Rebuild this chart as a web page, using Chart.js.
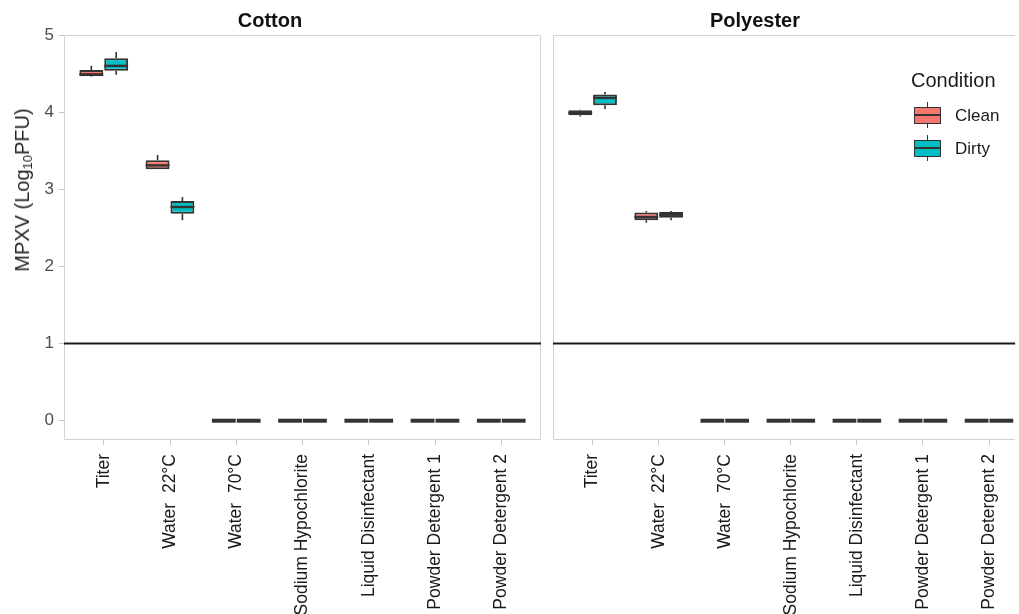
<!DOCTYPE html>
<html>
<head>
<meta charset="utf-8">
<script src="https://cdn.jsdelivr.net/npm/chart.js@4.4.1/dist/chart.umd.min.js"></script>
<style>
  body { margin: 0; background: #fff; font-family: "Liberation Sans", Arial, sans-serif; }
  #wrap { position: relative; width: 1019px; height: 614px; overflow: hidden; background: #fff; }
  canvas { position: absolute; top: 0; }
  #cottonCanvas { left: 0; }
  #polyCanvas { left: 545px; }
  .facet { position: absolute; top: 10px; font-weight: bold; font-size: 20px; line-height: 20px; color: #111; transform: translateX(-50%); white-space: nowrap; }
  #yTitle { position: absolute; left: 23px; top: 190px; font-size: 20px; font-weight: normal; color: #262626; transform: translate(-50%, -50%) rotate(-90deg); white-space: nowrap; -webkit-font-smoothing: antialiased; }
  #yTitle sub { font-size: 13px; vertical-align: -3px; }
  .lgTitle { position: absolute; left: 911px; top: 70px; font-size: 20px; line-height: 20px; color: #1a1a1a; }
  .lgText { position: absolute; left: 955px; font-size: 17px; line-height: 17px; color: #1a1a1a; }
  .icon { position: absolute; left: 914px; width: 27px; height: 26px; }
  .icon::before { content: ""; position: absolute; left: 12.5px; top: 0; bottom: 0; width: 1.6px; background: #333; }
  .icon .box { position: absolute; left: 0; right: 0; top: 5px; height: 17px; box-sizing: border-box; border: 1.6px solid #333; }
  .icon .box::after { content: ""; position: absolute; left: 0; right: 0; top: 6px; height: 1.8px; background: #333; }
</style>
</head>
<body>
<div id="wrap">
  <canvas id="cottonCanvas" width="545" height="614"></canvas>
  <canvas id="polyCanvas" width="474" height="614"></canvas>
  <div class="facet" style="left:270px">Cotton</div>
  <div class="facet" style="left:755px">Polyester</div>
  <div id="yTitle">MPXV (Log<sub>10</sub>PFU)</div>
  <div class="lgTitle">Condition</div>
  <div class="icon" style="top:102px"><div class="box" style="background:#F8766D"></div></div>
  <div class="lgText" style="top:107px">Clean</div>
  <div class="icon" style="top:135px"><div class="box" style="background:#00BFC4"></div></div>
  <div class="lgText" style="top:140px">Dirty</div>
</div>
<script>
// Categories and ticks
const categories = ["Titer", "Water  22°C", "Water  70°C", "Sodium Hypochlorite", "Liquid Disinfectant", "Powder Detergent 1", "Powder Detergent 2"];
const yTicks = [0, 1, 2, 3, 4, 5];
const detectionLimit = 1;

// Five-number summaries per category: [min, q1, median, q3, max]
const cottonClean = [[4.46, 4.465, 4.49, 4.545, 4.60], [3.26, 3.26, 3.31, 3.375, 3.445], [0, 0, 0, 0, 0], [0, 0, 0, 0, 0], [0, 0, 0, 0, 0], [0, 0, 0, 0, 0], [0, 0, 0, 0, 0]];
const cottonDirty = [[4.485, 4.535, 4.60, 4.70, 4.78], [2.60, 2.684, 2.77, 2.848, 2.90], [0, 0, 0, 0, 0], [0, 0, 0, 0, 0], [0, 0, 0, 0, 0], [0, 0, 0, 0, 0], [0, 0, 0, 0, 0]];
const polyClean = [[3.945, 3.961, 3.99, 4.026, 4.03], [2.567, 2.60, 2.64, 2.70, 2.72], [0, 0, 0, 0, 0], [0, 0, 0, 0, 0], [0, 0, 0, 0, 0], [0, 0, 0, 0, 0], [0, 0, 0, 0, 0]];
const polyDirty = [[4.04, 4.09, 4.185, 4.23, 4.26], [2.60, 2.63, 2.67, 2.705, 2.72], [0, 0, 0, 0, 0], [0, 0, 0, 0, 0], [0, 0, 0, 0, 0], [0, 0, 0, 0, 0], [0, 0, 0, 0, 0]];

const cleanColor = "#F8766D";
const dirtyColor = "#00BFC4";

Chart.defaults.font.family = "'Liberation Sans', Arial, sans-serif";

// medians and whiskers on top of the floating bars
const boxWhiskers = {
  id: "boxWhiskers",
  afterDatasetsDraw(chart) {
    const ctx = chart.ctx;
    const y = chart.scales.y;
    chart.data.datasets.forEach((ds, di) => {
      if (!ds.stats) return;
      const meta = chart.getDatasetMeta(di);
      meta.data.forEach((bar, i) => {
        const [lo, q1, med, q3, hi] = ds.stats[i];
        const half = bar.width / 2;
        ctx.save();
        ctx.strokeStyle = "#333";
        ctx.lineWidth = 1.6;
        ctx.beginPath();
        ctx.moveTo(bar.x, y.getPixelForValue(q3));
        ctx.lineTo(bar.x, y.getPixelForValue(hi));
        ctx.moveTo(bar.x, y.getPixelForValue(q1));
        ctx.lineTo(bar.x, y.getPixelForValue(lo));
        ctx.stroke();
        ctx.lineWidth = q3 > q1 ? 2.4 : 4;
        ctx.beginPath();
        ctx.moveTo(bar.x - half, y.getPixelForValue(med));
        ctx.lineTo(bar.x + half, y.getPixelForValue(med));
        ctx.stroke();
        ctx.restore();
      });
    });
  }
};

function panelBorder(openRight) {
  return {
    id: "panelBorder",
    beforeDatasetsDraw(chart) {
      const { ctx, chartArea: a } = chart;
      ctx.save();
      ctx.strokeStyle = "#d2d2d2";
      ctx.lineWidth = 1;
      ctx.beginPath();
      ctx.moveTo(a.right - 0.5, a.top + 0.5);
      ctx.lineTo(a.left + 0.5, a.top + 0.5);
      ctx.lineTo(a.left + 0.5, a.bottom - 0.5);
      ctx.lineTo(a.right - 0.5, a.bottom - 0.5);
      if (!openRight) ctx.lineTo(a.right - 0.5, a.top + 0.5);
      ctx.stroke();
      ctx.restore();
    }
  };
}

function boxDataset(label, stats, color) {
  return {
    type: "bar",
    label: label,
    data: stats.map((s, i) => ({ x: i, y: [s[1], s[3]] })),
    stats: stats,
    backgroundColor: color,
    borderColor: "#333",
    borderWidth: 2,
    borderSkipped: false,
    categoryPercentage: 0.75,
    barPercentage: 0.96,
    order: 1
  };
}

function makePanel(canvasId, clean, dirty, xMax, showY, rightPad) {
  return new Chart(document.getElementById(canvasId), {
    type: "bar",
    data: {
      datasets: [
        boxDataset("Clean", clean, cleanColor),
        boxDataset("Dirty", dirty, dirtyColor),
        {
          type: "line",
          label: "LOD",
          data: [{ x: -0.6, y: detectionLimit }, { x: xMax, y: detectionLimit }],
          borderColor: "#1a1a1a",
          borderWidth: 2,
          pointRadius: 0,
          order: 0
        }
      ]
    },
    options: {
      responsive: false,
      animation: false,
      layout: { padding: { top: 35, right: rightPad, left: 0, bottom: 0 } },
      plugins: { legend: { display: false }, tooltip: { enabled: false } },
      scales: {
        x: {
          type: "linear",
          min: -0.6,
          max: xMax,
          offset: false,
          afterBuildTicks: s => { s.ticks = categories.map((_, i) => ({ value: i })); },
          afterFit: s => { s.height = 174; },
          grid: { display: true, offset: false, drawOnChartArea: false, tickLength: 5, tickColor: "#c4c4c4" },
          border: { display: false },
          ticks: {
            autoSkip: false, maxRotation: 90, minRotation: 90,
            color: "#1a1a1a", font: { size: 17.5 }, padding: 9,
            callback: v => categories[v]
          }
        },
        y: {
          min: -0.25,
          max: 5,
          afterBuildTicks: s => { s.ticks = yTicks.map(v => ({ value: v })); },
          afterFit: s => { s.width = showY ? 64 : 8; },
          grid: { display: showY, drawOnChartArea: false, tickLength: 5, tickColor: "#c4c4c4" },
          border: { display: false },
          ticks: { display: showY, color: "#4d4d4d", font: { size: 17 }, padding: 5 }
        }
      }
    },
    plugins: [panelBorder(!showY), boxWhiskers]
  });
}

makePanel("cottonCanvas", cottonClean, cottonDirty, 6.6, true, 4);
makePanel("polyCanvas", polyClean, polyDirty, 6.4, false, 0);
</script>
</body>
</html>
